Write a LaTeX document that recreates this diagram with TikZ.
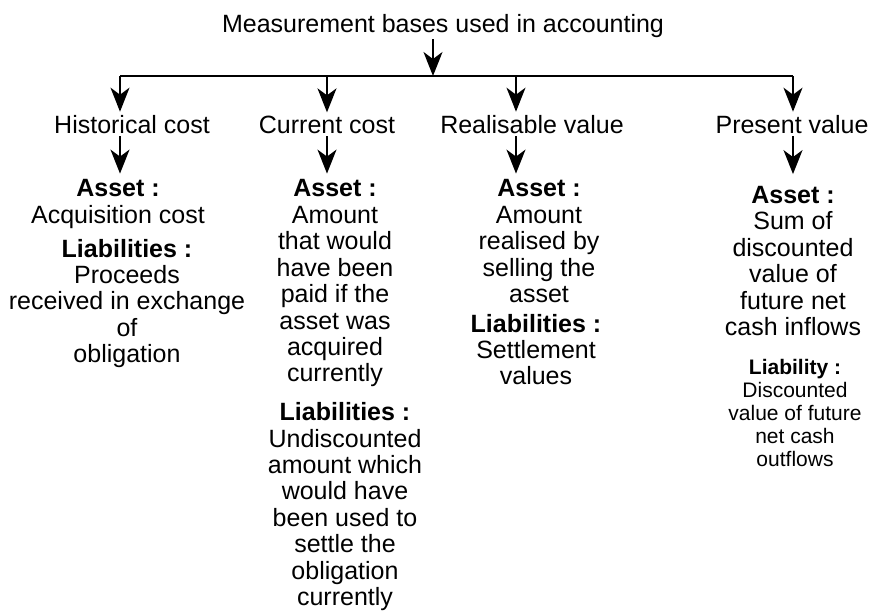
\documentclass[tikz,border=0pt]{standalone}
\usepackage{fontspec}
\setmainfont{Liberation Sans}
\usetikzlibrary{arrows.meta}
\begin{document}
\begin{tikzpicture}[x=1pt,y=-1pt,
  txt/.style={font=\fontsize{25}{26.4}\selectfont, align=center, inner sep=0pt, anchor=base},
  small/.style={font=\fontsize{21}{23}\selectfont, align=center, inner sep=0pt, anchor=base},
  arr/.style={line width=1.6pt, -{Stealth[length=24pt,width=19pt,inset=7pt]}},
  ln/.style={line width=1.8pt}]
\useasboundingbox (0,0) rectangle (870,612);
\fill[white] (0,0) rectangle (870,612);
% title
\node[txt] (title) at (443,33) {Measurement bases used in accounting};
\coordinate (top) at (433,76);
\coordinate (a1) at (120,76);
\coordinate (a2) at (327,76);
\coordinate (a3) at (516,76);
\coordinate (a4) at (793,76);
\draw[ln] (a1) -- (a4);
\draw[arr, shorten <=1pt] (title.south -| top) -- (top);
% labels
\node[txt] (h1) at (132,134) {Historical cost};
\node[txt] (h2) at (327,134) {Current cost};
\node[txt] (h3) at (532,134) {Realisable value};
\node[txt] (h4) at (792,134) {Present value};
\foreach \i in {1,2,3,4}{
  \draw[arr, shorten >=4pt] (a\i) -- (a\i |- h\i.north);
}
% blocks (anchor base = baseline of the last line)
\node[txt] (s1) at (118,223.4) {\textbf{Asset :}\\Acquisition cost};
\node[txt] (l1) at (127,362.6) {\textbf{Liabilities :}\\Proceeds\\received in exchange\\of\\obligation};
\node[txt] (s2) at (335,381.8) {\textbf{Asset :}\\Amount\\that would\\have been\\paid if the\\asset was\\acquired\\currently};
\node[txt] (l2) at (345,605.5) {\textbf{Liabilities :}\\Undiscounted\\amount which\\would have\\been used to\\settle the\\obligation\\currently};
\node[txt] (s3) at (539,302.6) {\textbf{Asset :}\\Amount\\realised by\\selling the\\asset};
\node[txt] (l3) at (536,384.8) {\textbf{Liabilities :}\\Settlement\\values};
\node[txt] (s4) at (793,335.5) {\textbf{Asset :}\\Sum of\\discounted\\value of\\future net\\cash inflows};
\node[small] (l4) at (795,466) {\textbf{Liability :}\\Discounted\\value of future\\net cash\\outflows};
% second arrows
\draw[arr, shorten <=2pt, shorten >=6pt] (h1.south -| a1) -- (s1.north -| a1);
\draw[arr, shorten <=2pt, shorten >=6pt] (h2.south -| a2) -- (s2.north -| a2);
\draw[arr, shorten <=2pt, shorten >=6pt] (h3.south -| a3) -- (s3.north -| a3);
\draw[arr, shorten <=2pt, shorten >=12pt] (h4.south -| a4) -- (s4.north -| a4);
\end{tikzpicture}
\end{document}
